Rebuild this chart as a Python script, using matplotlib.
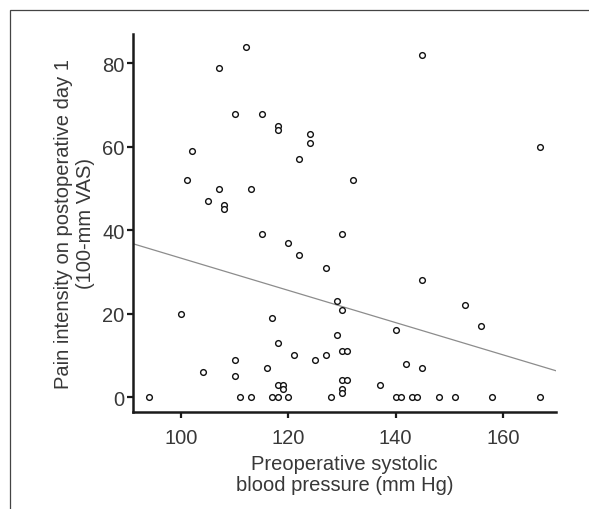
import matplotlib
matplotlib.use("Agg")
import matplotlib.pyplot as plt
from matplotlib.patches import Rectangle
import numpy as np

plt.rcParams['font.family'] = ['Liberation Sans', 'DejaVu Sans']

# Preoperative systolic blood pressure (mm Hg)
sbp = [112, 107, 110, 115, 102, 101, 107, 113, 105, 108, 108,
       118, 118, 124, 124, 122, 132, 145, 167,
       115, 100, 117, 110, 116, 104, 110,
       130, 120, 122, 127, 129, 130, 129, 118, 130, 131, 121, 125, 127,
       140, 142, 118, 119, 119, 130, 131, 130, 130, 137,
       145, 153, 156, 145,
       94, 111, 113, 117, 118, 120, 128, 140, 141, 143, 144, 148, 151, 158, 167]
# Pain intensity on postoperative day 1 (100-mm VAS)
vas = [84, 79, 68, 68, 59, 52, 50, 50, 47, 46, 45,
       65, 64, 63, 61, 57, 52, 82, 60,
       39, 20, 19, 9, 7, 6, 5,
       39, 37, 34, 31, 23, 21, 15, 13, 11, 11, 10, 9, 10,
       16, 8, 3, 3, 2, 4, 4, 2, 1, 3,
       28, 22, 17, 7,
       0, 0, 0, 0, 0, 0, 0, 0, 0, 0, 0, 0, 0, 0, 0]

# regression line
fit_intercept = 71.9
fit_slope = -0.386

x_ticks = [100, 120, 140, 160]
y_ticks = [0, 20, 40, 60, 80]
xlim = (91, 170)
ylim = (-3.5, 87)

fig = plt.figure(figsize=(5.89, 5.10), dpi=100)
ax = fig.add_axes([0.2258, 0.1908, 0.719, 0.740])

ax.scatter(sbp, vas, s=17, facecolors='white', edgecolors='#111111',
           linewidths=1.0, zorder=3)
xl = np.array(xlim)
ax.plot(xl, fit_intercept + fit_slope * xl, color='#8c8c8c', lw=0.9, zorder=2)

ax.set_xlim(*xlim)
ax.set_ylim(*ylim)
ax.set_xticks(x_ticks)
ax.set_yticks(y_ticks)
for s in ['top', 'right']:
    ax.spines[s].set_visible(False)
for s in ['left', 'bottom']:
    ax.spines[s].set_linewidth(1.8)
    ax.spines[s].set_color('#1a1a1a')
ax.tick_params(axis='both', direction='out', length=4, width=1.6,
               color='#1a1a1a', labelsize=14.5, labelcolor='#383838')
ax.tick_params(axis='x', pad=8)
ax.tick_params(axis='y', pad=2)

ax.set_xlabel('Preoperative systolic\nblood pressure (mm Hg)', fontsize=14.5,
              color='#383838', labelpad=5, linespacing=1.1)
ax.set_ylabel('Pain intensity on postoperative day 1\n(100-mm VAS)', fontsize=14.5,
              color='#383838', labelpad=5, linespacing=1.25)

# outer frame (cropped on right and bottom)
fig.patches.append(Rectangle((10 / 589, -0.1), 1.2, (510 - 11) / 510 + 0.1,
                             transform=fig.transFigure, fill=False,
                             edgecolor='#444444', lw=0.9))

fig.savefig('out.png', dpi=100)
